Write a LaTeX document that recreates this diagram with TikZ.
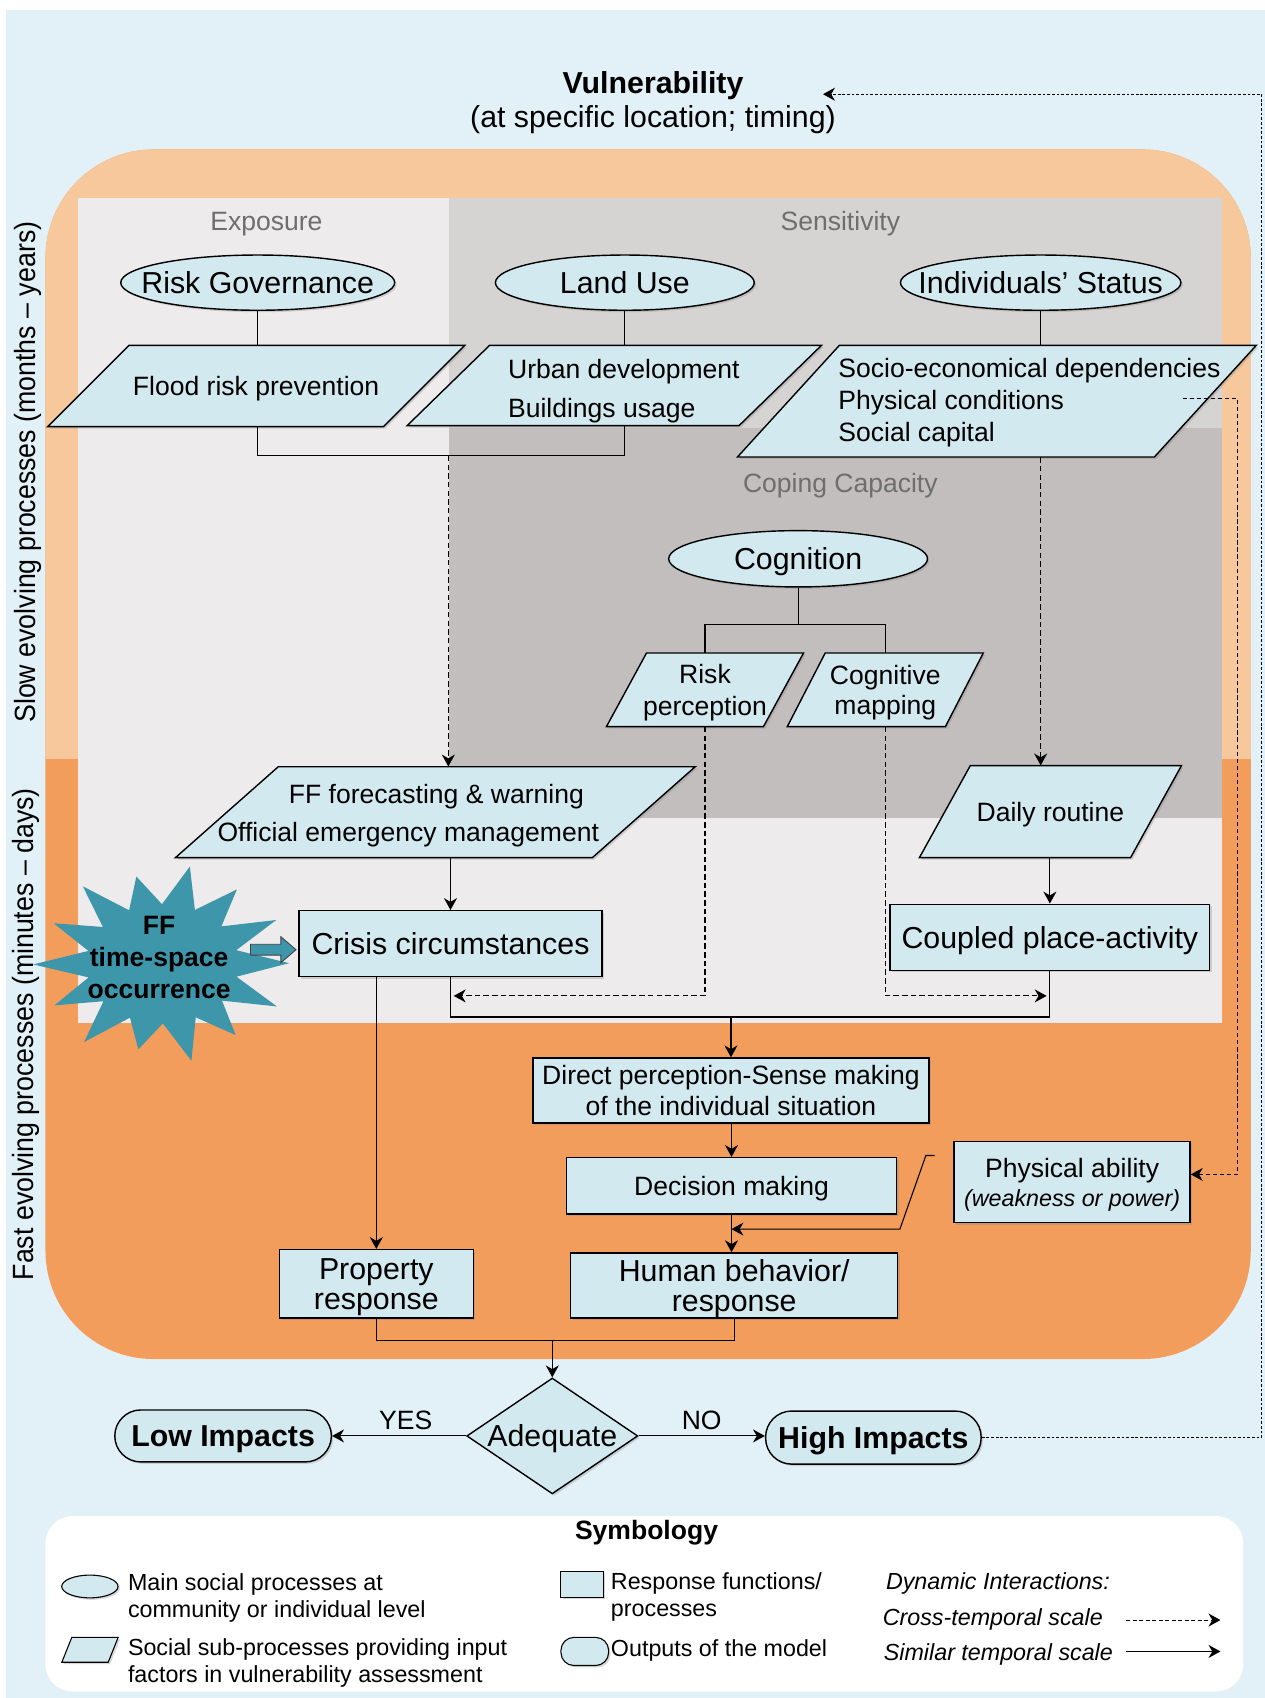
\documentclass[tikz,border=0pt]{standalone}
\usepackage{fontspec}
\setmainfont{Liberation Sans}
\usepackage{graphicx}
\usetikzlibrary{shapes.geometric,arrows.meta,shadows,calc}
\definecolor{bgblue}{RGB}{226,241,247}
\definecolor{orLight}{RGB}{246,200,155}
\definecolor{orDark}{RGB}{242,157,91}
\definecolor{gLight}{RGB}{237,235,236}
\definecolor{gMid}{RGB}{214,212,211}
\definecolor{gDark}{RGB}{194,190,189}
\definecolor{boxfill}{RGB}{210,233,239}
\definecolor{starteal}{RGB}{62,150,171}
\definecolor{labgray}{RGB}{110,110,110}
\newcommand\drawpara[5]{\draw[parabox] ({#1-#3+#5},{#2-#4}) -- ({#1+#3+#5},{#2-#4}) -- ({#1+#3-#5},{#2+#4}) -- ({#1-#3-#5},{#2+#4}) -- cycle;}
\begin{document}
\begin{tikzpicture}[x=1pt,y=-1pt,
  shad/.style={drop shadow={shadow xshift=1.8pt,shadow yshift=-1.8pt,opacity=0.3}},
  parabox/.style={draw=black,line width=1.3pt,fill=boxfill,line join=miter,shad},
  anch/.style={inner sep=0pt,align=center,text depth=0pt},
  box/.style={rectangle,draw=black,line width=1.3pt,fill=boxfill,inner sep=0pt,align=center,text depth=0pt,shad},
  ell/.style={ellipse,draw=black,line width=1.3pt,fill=boxfill,inner sep=0pt,text depth=0pt,shad},
  outbox/.style={rectangle,rounded corners=24pt,draw=black,line width=1.3pt,fill=boxfill,inner sep=0pt,text depth=0pt,shad,font=\bfseries\fontsize{28}{30}\selectfont},
  fbig/.style={font=\fontsize{28}{28}\selectfont},
  fmed/.style={font=\fontsize{24.5}{29}\selectfont},
  fsm/.style={font=\fontsize{21.5}{25}\selectfont},
  fsmi/.style={font=\fontsize{21.5}{25}\selectfont\itshape},
  conn/.style={line width=1pt,draw=black},
  tip/.style={-{Stealth[length=11pt,width=12pt,inset=3.5pt]}},
  arr/.style={conn,tip},
  darr/.style={arr,dash pattern=on 5pt off 3pt},
  farr/.style={line width=0.9pt,tip,dash pattern=on 2.5pt off 1.8pt},
  seclab/.style={text=labgray,text depth=0pt,font=\fontsize{24.5}{29}\selectfont},
]
\useasboundingbox (0,0) rectangle (1168,1568);
\fill[bgblue] (5.5,9) rectangle (1168,1568);
% orange regions
\fill[orDark, rounded corners=100pt] (42,138) rectangle (1155,1255);
\begin{scope}
  \clip (0,0) rectangle (1168,700);
  \fill[orLight, rounded corners=100pt] (42,138) rectangle (1155,1255);
\end{scope}
% gray panels
\fill[gLight] (72,183) rectangle (1128,945);
\fill[gMid] (415,183) rectangle (1128,395);
\fill[gDark] (415,395) rectangle (1128,755);
\node[seclab] (lexp) at (246,204) {Exposure};
\node[seclab] (lsen) at (776,204) {Sensitivity};
\node[seclab] (lcop) at (776,446) {Coping Capacity};
% side labels
\node[rotate=90, font=\fontsize{27}{30}\selectfont] (slow) at (26,436) {\scalebox{0.915}[1]{Slow evolving processes (months – years)}};
\node[rotate=90, font=\fontsize{27}{30}\selectfont] (fast) at (24,955) {\scalebox{0.915}[1]{Fast evolving processes (minutes – days)}};
% title
\node[text depth=0pt, font=\bfseries\fontsize{28}{30}\selectfont] (Vt) at (603,76) {Vulnerability};
\node[text depth=0pt, font=\fontsize{28}{30}\selectfont] (Vs) at (603,108) {(at specific location; timing)};
% ellipses
\node[ell, minimum width=253pt, minimum height=51pt, fbig] (RG) at (238,261) {\makebox[0pt]{Risk Governance}};
\node[ell, minimum width=239pt, minimum height=51pt, fbig] (LU) at (577,261) {\makebox[0pt]{Land Use}};
\node[ell, minimum width=259pt, minimum height=51pt, fbig] (IS) at (961,261) {\makebox[0pt]{Individuals’ Status}};
\node[ell, minimum width=239pt, minimum height=52pt, fbig] (Cog) at (737,516) {\makebox[0pt]{Cognition}};
% parallelograms
\drawpara{236.5}{356.5}{155}{37.5}{37.5}
\node[anch, minimum width=310pt, minimum height=75pt, fmed] (Flood) at (236.5,356.5) {Flood risk prevention};
\drawpara{567.25}{356}{153.25}{37}{38}
\node[anch, minimum width=306pt, minimum height=74pt] (Urban) at (567.25,356) {};
\node[anch, fmed, align=left, anchor=west] (UrbanT) at (469,359) {Urban development\\[7pt]Buildings usage};
\drawpara{920.5}{370.5}{192.5}{51.5}{47}
\node[anch, minimum width=385pt, minimum height=103pt] (Socio) at (920.5,370.5) {};
\node[anch, font=\fontsize{24.5}{29.5}\selectfont, align=left, anchor=west] (SocioT) at (774,369) {Socio-economical dependencies\\Physical conditions\\Social capital};
\drawpara{651}{637}{72.5}{34}{18.5}
\node[anch, minimum width=145pt, minimum height=68pt, fmed] (RP) at (651,637) {Risk\\perception};
\drawpara{817.5}{637}{73}{34}{17.5}
\node[anch, minimum width=146pt, minimum height=68pt, font=\fontsize{24.5}{28}\selectfont] (CM) at (817.5,637) {Cognitive\\mapping};
\drawpara{402}{750}{192.5}{42}{47.5}
\node[anch, minimum width=385pt, minimum height=84pt] (FF) at (402,750) {};
\node[anch, fmed] (FFa) at (403,733) {FF forecasting \& warning};
\node[anch, fmed] (FFb) at (377,768) {Official emergency management};
\drawpara{970}{749.5}{97.5}{42.5}{23.5}
\node[anch, minimum width=195pt, minimum height=85pt, fmed] (Daily) at (970,749.5) {Daily routine};
% star
\fill[starteal] ({150+69*cos(-90.357)},{890+55*sin(-90.357)})
  \foreach \k/\f in {0/1.0,1/0.95,2/1.0,3/1.0,4/1.0,5/0.92,6/1.0,7/0.88,8/1.0,9/0.95,10/1.02,11/0.95,12/1.0,13/0.9}
  { -- ({150+117*\f*cos(-77.5+25.714*\k)},{890+92*\f*sin(-77.5+25.714*\k)}) -- ({150+70*cos(-64.643+25.714*\k)},{890+55*sin(-64.643+25.714*\k)}) } -- cycle;
\node[anch, font=\bfseries\fontsize{24.5}{29.5}\selectfont] (Star) at (147,884) {FF\\time-space\\occurrence};
% rectangles
\node[box, minimum width=280pt, minimum height=61pt, fbig] (Crisis) at (416,871.5) {Crisis circumstances};
\node[box, minimum width=295pt, minimum height=61pt, fbig] (Coupled) at (969.5,865.5) {Coupled place-activity};
\node[box, minimum width=366pt, minimum height=60pt, font=\fontsize{24.5}{28}\selectfont] (Direct) at (675,1007) {Direct perception-Sense making\\of the individual situation};
\node[box, minimum width=305pt, minimum height=52pt, fmed] (Decision) at (675.5,1095) {Decision making};
\node[box, minimum width=218pt, minimum height=75pt, font=\fontsize{24.5}{27}\selectfont] (Phys) at (990,1091.5) {Physical ability\\{\fontsize{21.5}{27}\selectfont\itshape (weakness or power)}};
\node[box, minimum width=179pt, minimum height=63pt, fbig] (Prop) at (347.5,1185.5) {Property\\response};
\node[box, minimum width=302pt, minimum height=60pt, fbig] (Human) at (678,1187) {Human behavior/\\response};
% block arrow star -> crisis
\draw[fill=starteal, draw=black!75, line width=0.8pt] ($(Crisis.west)+(-44,0.5)$) -- ++(28,0) -- ++(0,-7) -- ($(Crisis.west)+(-2,5.5)$) -- ++(-14,12) -- ++(0,-7) -- ++(-28,0) -- cycle;
% outputs
\node[outbox, minimum width=200pt, minimum height=48pt] (Low) at (206,1326) {Low Impacts};
\node[outbox, minimum width=199pt, minimum height=49pt] (High) at (806.5,1327.5) {High Impacts};
\node[diamond, draw=black, line width=1.3pt, fill=boxfill, inner sep=0pt, text depth=0pt, minimum width=158pt, minimum height=107pt, fbig, shad] (Adeq) at (510,1326) {\makebox[0pt]{Adequate}};
% connectors
\draw[conn] (RG.south) -- (RG.south |- Flood.north);
\draw[conn] (LU.south) -- (LU.south |- Urban.north);
\draw[conn] (IS.south) -- (IS.south |- Socio.north);
\coordinate (brk) at (414,421);
\draw[conn] (RG.south |- Flood.south) |- (brk) -| (LU.south |- Urban.south);
\draw[darr] (brk) -- (brk |- FF.north);
\draw[darr] (IS.south |- Socio.south) -- (IS.south |- Daily.north);
\coordinate (cj) at ($(Cog.south)+(0,34)$);
\draw[conn] (Cog.south) -- (cj);
\draw[conn] (RP.north) |- (cj) -| (CM.north);
\draw[arr] (Crisis.north |- FF.south) -- (Crisis.north);
\draw[arr] (Coupled.north |- Daily.south) -- (Coupled.north);
\coordinate (hj) at ($(Crisis.south)+(0,36.5)$);
\draw[conn] (Crisis.south) |- (Coupled.south |- hj) -- (Coupled.south);
\draw[arr] (Direct.north |- hj) -- (Direct.north);
\coordinate (dj) at ($(Crisis.south)+(0,17)$);
\draw[darr] (RP.south) |- ($(dj)+(3,0)$);
\draw[darr] (CM.south) |- ($(Coupled.south |- dj)+(-3,0)$);
\draw[arr] (Prop.north |- Crisis.south) -- (Prop.north);
\draw[arr] (Decision.north |- Direct.south) -- (Decision.north);
\draw[arr] (Decision.south) -- (Decision.south |- Human.north);
\coordinate (pa1) at (863,1067);
\coordinate (pa2) at (855,1067);
\coordinate (pa3) at (831,1135);
\draw[arr] (pa1) -- (pa2) -- (pa3) -- (Decision.south |- pa3);
\coordinate (bj) at ($(Prop.south)+(0,20)$);
\draw[conn] (Prop.south) |- (Human.south |- bj) -- (Human.south);
\draw[arr] (Adeq.north |- bj) -- (Adeq.north);
\draw[arr] (Adeq.west) -- node[pos=0.45, above=2pt, fmed] (yes) {YES} (Low.east);
\draw[arr] (Adeq.east) -- node[above=2pt, fmed] (no) {NO} (Adeq.east -| High.west);
\coordinate (vend) at (760,87);
\coordinate (rcol) at (1165,87);
\draw[farr] (High.east) -| (rcol) -- (vend);
\coordinate (s1) at (1092,368);
\coordinate (s2) at (1143,368);
\draw[darr, line width=0.9pt, dash pattern=on 4pt off 2.5pt] (s1) -- (s2) |- ($(Phys.east)+(0,-7)$);
% legend
\fill[white, rounded corners=25pt] (42,1400) rectangle (1148,1562);
\node[text depth=0pt, font=\bfseries\fontsize{24.5}{29}\selectfont] (sym) at (597,1413) {Symbology};
\node[ell, line width=1pt, minimum width=52pt, minimum height=21pt] (kEll) at (83,1465) {};
\node[anch, fsm, align=left, anchor=west] (tEll) at (118,1473.5) {Main social processes at\\community or individual level};
\begin{scope}[parabox/.append style={line width=1pt}]
\drawpara{83.1}{1523.5}{21.4}{11.5}{4.6}
\end{scope}
\node[anch, minimum width=42.8pt, minimum height=23pt] (kPara) at (83.1,1523.5) {};
\node[anch, fsm, align=left, anchor=west] (tPara) at (118,1533.5) {Social sub-processes providing input\\factors in vulnerability assessment};
\node[box, line width=1pt, minimum width=39pt, minimum height=24pt] (kBox) at (537.5,1463) {};
\node[anch, fsm, align=left, anchor=west] (tBox) at (564,1472.5) {Response functions/\\processes};
\node[box, line width=1pt, rounded corners=12pt, minimum width=44pt, minimum height=26pt] (kOut) at (540,1525) {};
\node[anch, fsm, anchor=west] (tOut) at (564,1522) {Outputs of the model};
\node[anch, fsmi, anchor=west] (tDyn) at (818,1460) {Dynamic Interactions:};
\node[anch, fsmi, anchor=west] (tCross) at (815,1493) {Cross-temporal scale};
\node[anch, fsmi, anchor=west] (tSim) at (816,1526) {Similar temporal scale};
\coordinate (c1) at (1040,1496);
\coordinate (c2) at (1127,1496);
\draw[darr, line width=1pt, dash pattern=on 3.5pt off 2.5pt] (c1) -- (c2);
\coordinate (c3) at (1040,1525);
\coordinate (c4) at (1127,1525);
\draw[arr, line width=1.3pt] (c3) -- (c4);
\end{tikzpicture}
\end{document}
